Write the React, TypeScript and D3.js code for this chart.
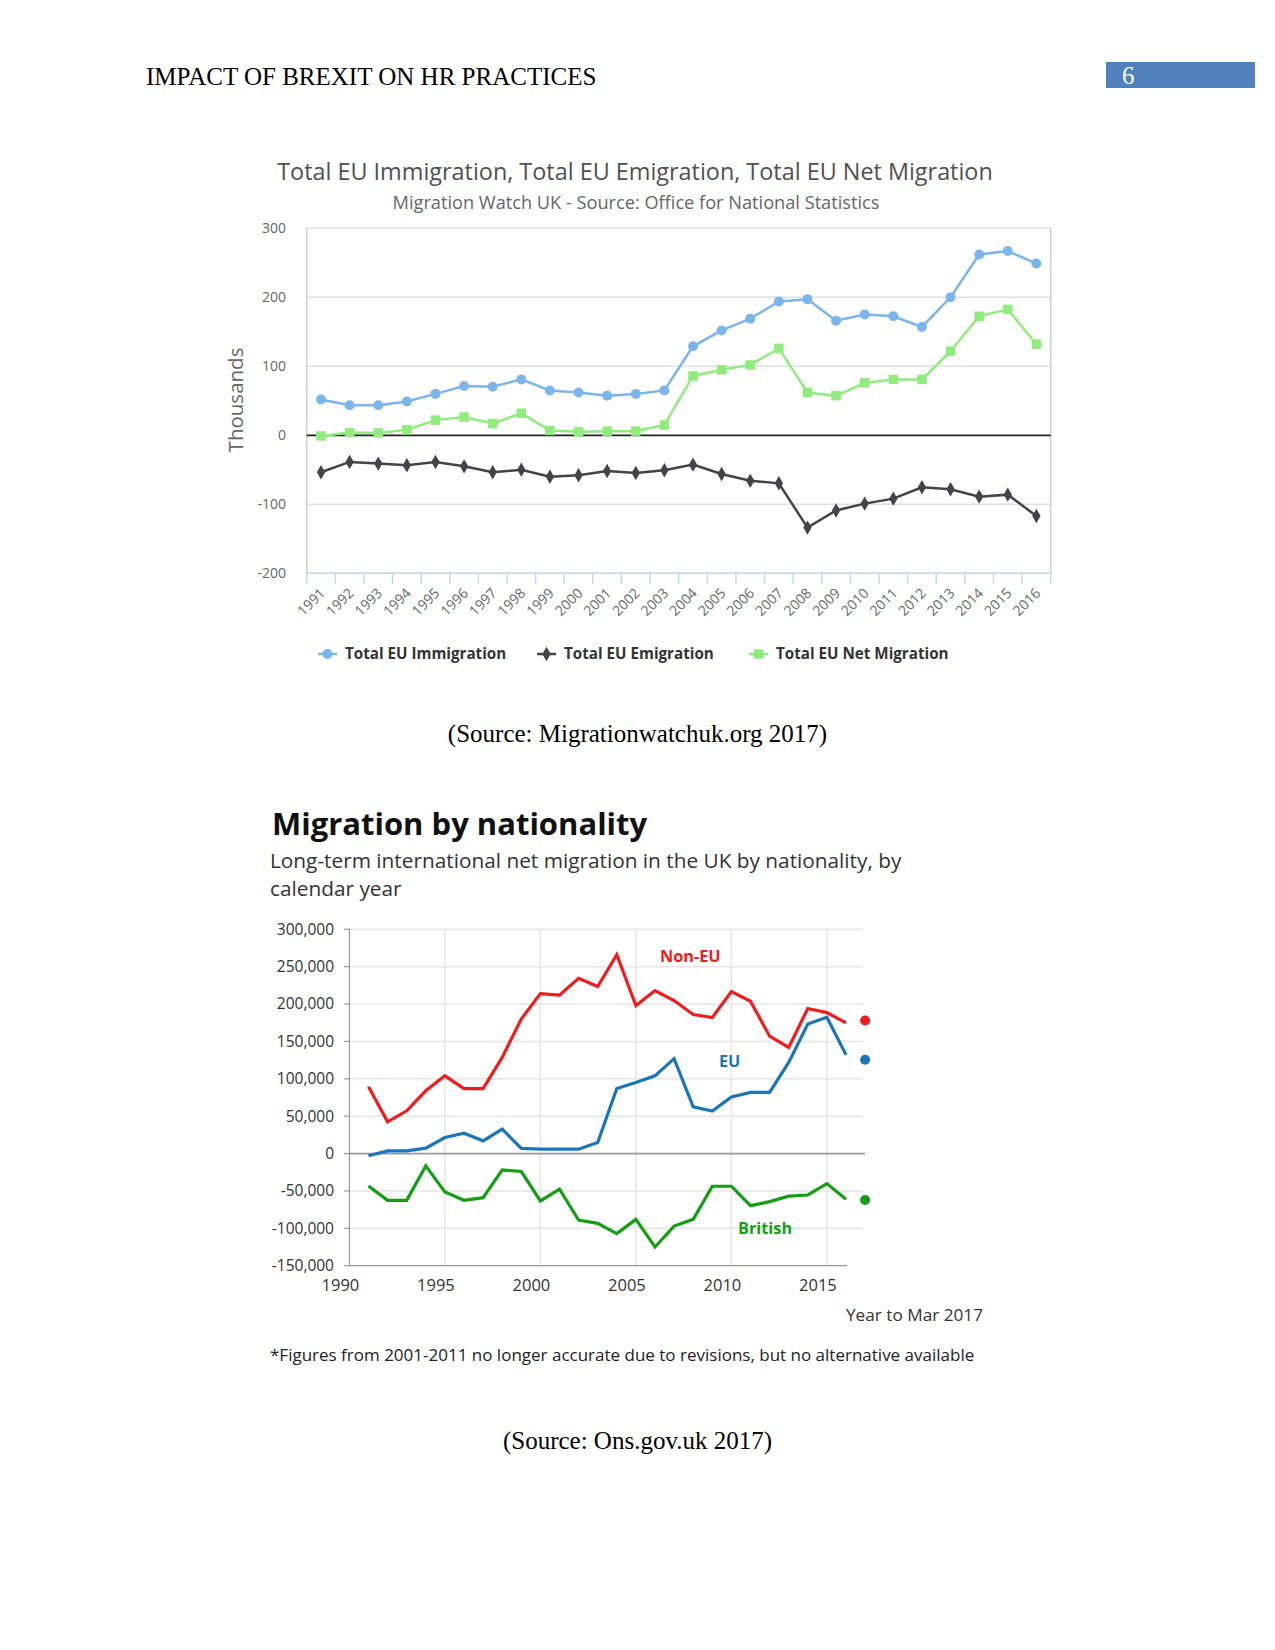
import React from "react";
import * as d3 from "d3";

// ---------- Chart 1 data (thousands) ----------
const years1 = ["1991","1992","1993","1994","1995","1996","1997","1998","1999","2000","2001","2002","2003","2004","2005","2006","2007","2008","2009","2010","2011","2012","2013","2014","2015","2016"];
const immigration = [52,43.5,43.5,49,60,71.5,70.5,81,65,62,57.5,60,65,129,152,169,194,197,166,175,172.5,157,200,262,267,249];
const emigration = [-53.6,-38.6,-41,-43.5,-38.6,-45,-53.6,-49.8,-60,-58,-51.7,-54.6,-50.7,-42.5,-56,-66,-69.6,-133.8,-109,-99,-91.8,-75.4,-78.3,-88.9,-86,-117];
const netMigration = [-1,4,3.5,8,22,26.5,17,32,7,5,6,6,15,86,95,102,126,62,57.5,76,81,81,122,172.5,182.5,132];
const yTicks1 = [300,200,100,0,-100,-200];
const legend1 = ["Total EU Immigration","Total EU Emigration","Total EU Net Migration"];

// ---------- Chart 2 data ----------
const years2 = [1991,1992,1993,1994,1995,1996,1997,1998,1999,2000,2001,2002,2003,2004,2005,2006,2007,2008,2009,2010,2011,2012,2013,2014,2015,2016];
const nonEU = [89400,42500,57200,84000,104000,87000,87000,128700,180000,214000,212000,234500,223500,266000,198000,218000,204700,186000,182000,216800,203800,157000,142000,194000,188600,174800];
const eu = [-3000,3600,3600,7200,21500,27300,17000,32700,7000,5900,5900,5900,14700,87000,95000,104000,127000,62600,56800,75600,81800,81800,122000,173400,182300,132300];
const british = [-43300,-62500,-62500,-16500,-51300,-62500,-59000,-21800,-24000,-63400,-47700,-88900,-93300,-107000,-88000,-125000,-97000,-88000,-43700,-43700,-69700,-64300,-57000,-55400,-40200,-61200];
const latestYear = 2017;
const latest = { nonEU: 177900, eu: 125600, british: -62000 };
const yTicks2 = [300000,250000,200000,150000,100000,50000,0,-50000,-100000,-150000];
const xTicks2 = [1990,1995,2000,2005,2010,2015];

const SERIF = "'Liberation Serif', 'Times New Roman', serif";
const SANS = "'Open Sans', 'Noto Sans', sans-serif";
const hyphen = (s: string) => s.replace("\u2212", "-");

function Chart1() {
  const x = d3.scaleBand<string>().domain(years1).range([306.7, 1050.7]);
  const y = d3.scaleLinear().domain([-200, 300]).range([573.3, 228.3]);
  const cx = (i: number) => (x(years1[i]) as number) + x.bandwidth() / 2;
  const line = d3.line<number>().x((_, i) => cx(i)).y((d) => y(d));
  const blue = "#7cb5ec", black = "#434348", green = "#90ed7d";
  const diamond = d3.symbol().type(d3.symbolDiamond).size(60)() as string;
  const square = d3.symbol().type(d3.symbolSquare).size(90)() as string;
  const fmt = d3.format("d");
  const legendX = [318, 537, 749];
  const legendColors = [blue, black, green];
  return (
    <g fontFamily={SANS}>
      <text x={635} y={180} textAnchor="middle" fontSize={23.4} fill="#505050">Total EU Immigration, Total EU Emigration, Total EU Net Migration</text>
      <text x={636} y={209} textAnchor="middle" fontSize={18.2} fill="#666">Migration Watch UK - Source: Office for National Statistics</text>
      {yTicks1.map((t) => (
        <g key={t}>
          {t !== 0 && <line x1={306.7} x2={1050.7} y1={y(t)} y2={y(t)} stroke="#e0e0e0" strokeWidth={1.5} />}
          <text x={286} y={y(t)} dy="0.35em" textAnchor="end" fontSize={14} fill="#666">{hyphen(fmt(t))}</text>
        </g>
      ))}
      <line x1={306.7} x2={306.7} y1={228.3} y2={573.3} stroke="#ccc" strokeWidth={1.5} />
      <line x1={1050.7} x2={1050.7} y1={228.3} y2={573.3} stroke="#ccc" strokeWidth={1.5} />
      <line x1={306.7} x2={1050.7} y1={573.3} y2={573.3} stroke="#ccd6eb" strokeWidth={1.5} />
      <line x1={306.7} x2={1050.7} y1={y(0)} y2={y(0)} stroke="#222" strokeWidth={1.8} />
      {years1.map((yr) => (
        <line key={"t" + yr} x1={x(yr) as number} x2={x(yr) as number} y1={573.3} y2={584} stroke="#ccd6eb" strokeWidth={1.5} />
      ))}
      <line x1={1050.7} x2={1050.7} y1={573.3} y2={584} stroke="#ccd6eb" strokeWidth={1.5} />
      {years1.map((yr, i) => (
        <text key={"l" + yr} transform={`translate(${cx(i) + 5},${594}) rotate(-45)`} textAnchor="end" fontSize={14} fill="#666">{yr}</text>
      ))}
      <text transform="translate(236,400) rotate(-90)" textAnchor="middle" dy="0.35em" fontSize={20.5} fill="#666">Thousands</text>
      <path d={line(immigration) as string} fill="none" stroke={blue} strokeWidth={2.5} />
      <path d={line(emigration) as string} fill="none" stroke={black} strokeWidth={2.5} />
      <path d={line(netMigration) as string} fill="none" stroke={green} strokeWidth={2.5} />
      {immigration.map((v, i) => <circle key={"c" + i} cx={cx(i)} cy={y(v)} r={5} fill={blue} />)}
      {emigration.map((v, i) => <path key={"d" + i} d={diamond} transform={`translate(${cx(i)},${y(v)})`} fill={black} />)}
      {netMigration.map((v, i) => <path key={"s" + i} d={square} transform={`translate(${cx(i)},${y(v)})`} fill={green} />)}
      {legend1.map((name, i) => (
        <g key={name} transform={`translate(${legendX[i]},654)`}>
          <line x1={0} x2={19} y1={0} y2={0} stroke={legendColors[i]} strokeWidth={2.5} />
          {i === 0 && <circle cx={9.5} cy={0} r={5} fill={blue} />}
          {i === 1 && <path d={diamond} transform="translate(9.5,0)" fill={black} />}
          {i === 2 && <path d={square} transform="translate(9.5,0)" fill={green} />}
          <text x={27} y={0} dy="0.35em" fontSize={15.2} fontWeight="bold" fill="#333">{name}</text>
        </g>
      ))}
    </g>
  );
}

function Chart2() {
  const x = d3.scaleLinear().domain([1990, 2017]).range([349.4, 865.1]);
  const y = d3.scaleLinear().domain([-150000, 300000]).range([1265.7, 929.3]);
  const line = d3.line<number>().x((_, i) => x(years2[i])).y((d) => y(d));
  const red = "#f21c1c", blue = "#1b75bb", green = "#139e16";
  const fmt = d3.format(",");
  return (
    <g fontFamily={SANS}>
      <text x={272} y={835} fontSize={31} fontWeight="bold" fill="#111">Migration by nationality</text>
      <text x={270} y={868} fontSize={20.8} fill="#333">Long-term international net migration in the UK by nationality, by</text>
      <text x={270} y={896} fontSize={20.8} fill="#333">calendar year</text>
      {xTicks2.slice(1).map((t) => (
        <line key={"v" + t} x1={x(t)} x2={x(t)} y1={929.3} y2={1265.7} stroke="#e6e6e6" strokeWidth={1.5} />
      ))}
      {yTicks2.map((t) => (
        <g key={t}>
          {t !== 0 && t !== -150000 && <line x1={349.4} x2={863} y1={y(t)} y2={y(t)} stroke="#e6e6e6" strokeWidth={1.5} />}
          <line x1={344} x2={349.4} y1={y(t)} y2={y(t)} stroke="#999" strokeWidth={1.2} />
          <text x={334} y={y(t)} dy="0.35em" textAnchor="end" fontSize={15.5} fill="#333">{hyphen(fmt(t))}</text>
        </g>
      ))}
      <line x1={349.4} x2={349.4} y1={929.3} y2={1265.7} stroke="#999" strokeWidth={1.2} />
      <line x1={349.4} x2={847} y1={1265.7} y2={1265.7} stroke="#999" strokeWidth={1.2} />
      <line x1={349.4} x2={865} y1={y(0)} y2={y(0)} stroke="#999" strokeWidth={1.8} />
      {xTicks2.map((t) => (
        <text key={"x" + t} x={x(t) - 9} y={1291} textAnchor="middle" fontSize={16.5} fill="#333">{t}</text>
      ))}
      <path d={line(nonEU) as string} fill="none" stroke={red} strokeWidth={3.2} />
      <path d={line(eu) as string} fill="none" stroke={blue} strokeWidth={3.2} />
      <path d={line(british) as string} fill="none" stroke={green} strokeWidth={3.2} />
      <circle cx={x(latestYear)} cy={y(latest.nonEU)} r={5} fill={red} />
      <circle cx={x(latestYear)} cy={y(latest.eu)} r={5} fill={blue} />
      <circle cx={x(latestYear)} cy={y(latest.british)} r={5} fill={green} />
      <text x={660} y={956} dy="0.35em" fontSize={16.3} fontWeight="bold" fill={red}>Non-EU</text>
      <text x={719} y={1061} dy="0.35em" fontSize={16.3} fontWeight="bold" fill={blue}>EU</text>
      <text x={738} y={1228} dy="0.35em" fontSize={16.3} fontWeight="bold" fill={green}>British</text>
      <text x={983} y={1321} textAnchor="end" fontSize={17.2} fill="#333">Year to Mar 2017</text>
      <text x={270} y={1361} fontSize={17} fill="#222">*Figures from 2001-2011 no longer accurate due to revisions, but no alternative available</text>
    </g>
  );
}

export default function App() {
  return (
    <svg width={1275} height={1650} style={{ position: "absolute", left: 0, top: 0, background: "#fff" }}>
      <rect x={0} y={0} width={1275} height={1650} fill="#fff" />
      <text x={146} y={85} fontFamily={SERIF} fontSize={25} fill="#000">IMPACT OF BREXIT ON HR PRACTICES</text>
      <rect x={1106} y={62} width={149} height={26} fill="#4f81bd" />
      <text x={1122} y={84} fontFamily={SERIF} fontSize={25} fill="#fff">6</text>
      <Chart1 />
      <text x={637.5} y={742} textAnchor="middle" fontFamily={SERIF} fontSize={25} fill="#000">(Source: Migrationwatchuk.org 2017)</text>
      <Chart2 />
      <text x={637.5} y={1449} textAnchor="middle" fontFamily={SERIF} fontSize={25} fill="#000">(Source: Ons.gov.uk 2017)</text>
    </svg>
  );
}
